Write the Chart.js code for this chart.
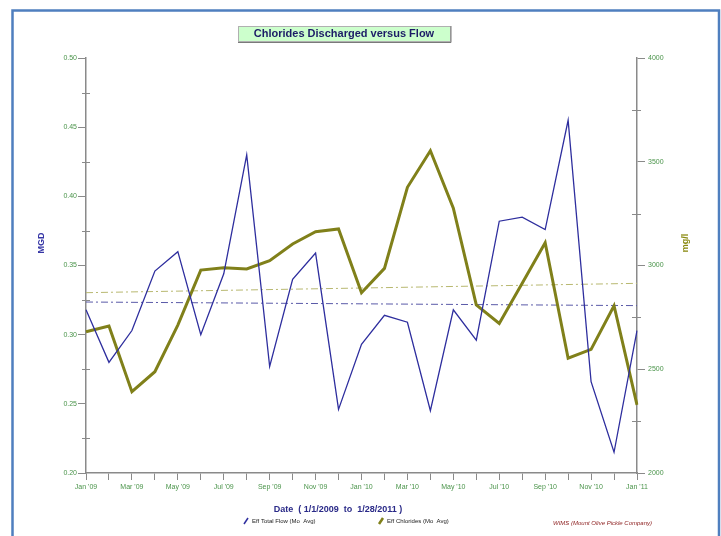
<!DOCTYPE html>
<html>
<head>
<meta charset="utf-8">
<script src="https://cdn.jsdelivr.net/npm/chart.js@4/dist/chart.umd.min.js"></script>
<style>
  html, body { margin: 0; padding: 0; background: #fff; }
  canvas { display: block; }
</style>
</head>
<body>
<canvas id="chart" width="721" height="536"></canvas>
<script>
// --- data ---
const months = [
  "Jan '09", "Feb '09", "Mar '09", "Apr '09", "May '09", "Jun '09", "Jul '09", "Aug '09",
  "Sep '09", "Oct '09", "Nov '09", "Dec '09", "Jan '10", "Feb '10", "Mar '10", "Apr '10",
  "May '10", "Jun '10", "Jul '10", "Aug '10", "Sep '10", "Oct '10", "Nov '10", "Dec '10", "Jan '11"
];
const flow = [
  0.318, 0.280, 0.303, 0.346, 0.360, 0.300, 0.344, 0.430,
  0.277, 0.340, 0.359, 0.246, 0.293, 0.314, 0.309, 0.245,
  0.318, 0.296, 0.382, 0.385, 0.376, 0.455, 0.266, 0.215, 0.303
];
const chlorides = [
  2681, 2708, 2392, 2488, 2713, 2978, 2989, 2983,
  3023, 3104, 3163, 3176, 2869, 2986, 3377, 3553,
  3276, 2810, 2721, 2915, 3110, 2553, 2596, 2806, 2328
];
// trend line end points (first month, last month)
const flowTrend = [0.3236, 0.3210];
const chlorTrend = [2869, 2914];

const mgdTicks = { min: 0.20, max: 0.50, step: 0.05 };
const mglTicks = { min: 2000, max: 4000, step: 500 };

const GREEN = "#4a944a";
const AXIS = "#8a8a8a";
const BLUE = "#2e2e9e";
const OLIVE = "#80801a";

const W = 721, H = 536;
const PLOT_L = 86, PLOT_R = 637, PLOT_B = 473, PLOT_T = 58;

// --- decorations: frame, title box, axis titles, minor ticks, legend ---
const decor = {
  id: "decor",
  beforeDraw(chart) {
    const c = chart.ctx;
    c.save();
    c.fillStyle = "#fff";
    c.fillRect(0, 0, W, H);
    c.restore();
  },
  afterDraw(chart) {
    const c = chart.ctx;
    const { y, y1 } = chart.scales;
    c.save();

    // outer frame
    c.strokeStyle = "#4f7fbf";
    c.lineWidth = 2.5;
    c.strokeRect(12.5, 10.5, 706.5, 540);

    // minor ticks (between major ones, crossing the axis)
    c.strokeStyle = AXIS;
    c.lineWidth = 1;
    c.beginPath();
    for (let i = 0; i < y.ticks.length - 1; i++) {
      const py = Math.round(y.getPixelForValue((y.ticks[i].value + y.ticks[i + 1].value) / 2)) + 0.5;
      c.moveTo(chart.chartArea.left - 4, py); c.lineTo(chart.chartArea.left + 4, py);
    }
    for (let i = 0; i < y1.ticks.length - 1; i++) {
      const py = Math.round(y1.getPixelForValue((y1.ticks[i].value + y1.ticks[i + 1].value) / 2)) + 0.5;
      c.moveTo(chart.chartArea.right - 5, py); c.lineTo(chart.chartArea.right + 4, py);
    }
    c.stroke();

    // title box
    c.fillStyle = "#ccffcc";
    c.fillRect(238, 26, 212, 15);
    c.strokeStyle = "#b0b0b0";
    c.lineWidth = 1;
    c.strokeRect(238.5, 26.5, 212, 15);
    c.strokeStyle = "#7a7a7a";
    c.beginPath();
    c.moveTo(451, 26); c.lineTo(451, 42.5); c.lineTo(238, 42.5);
    c.stroke();
    c.fillStyle = "#1c1c66";
    c.font = "bold 11px 'Liberation Sans', Arial, sans-serif";
    c.textAlign = "center";
    c.textBaseline = "middle";
    c.fillText("Chlorides Discharged versus Flow", 344, 34);

    // axis titles, both read bottom to top
    c.font = "bold 9px 'Liberation Sans', Arial, sans-serif";
    c.fillStyle = "#3535a5";
    c.translate(42, 243); c.rotate(-Math.PI / 2);
    c.fillText("MGD", 0, 0);
    c.setTransform(1, 0, 0, 1, 0, 0);
    c.fillStyle = "#8a8a10";
    c.translate(686, 243); c.rotate(-Math.PI / 2);
    c.fillText("mg/l", 0, 0);
    c.setTransform(1, 0, 0, 1, 0, 0);

    // x title
    c.fillStyle = "#2a2a88";
    c.font = "bold 9px 'Liberation Sans', Arial, sans-serif";
    c.fillText("Date  ( 1/1/2009  to  1/28/2011 )", 338, 510);

    // legend
    c.font = "6px 'Liberation Sans', Arial, sans-serif";
    c.textAlign = "left";
    const items = [
      { x: 244, label: "Eff Total Flow (Mo  Avg)", color: BLUE, w: 1.5 },
      { x: 379, label: "Eff Chlorides (Mo  Avg)", color: OLIVE, w: 2.5 }
    ];
    items.forEach(it => {
      c.strokeStyle = it.color;
      c.lineWidth = it.w;
      c.beginPath();
      c.moveTo(it.x, 524); c.lineTo(it.x + 4, 518);
      c.stroke();
      c.fillStyle = "#222";
      c.fillText(it.label, it.x + 8, 521);
    });

    // source note
    c.fillStyle = "#8b1c1c";
    c.font = "italic 6px 'Liberation Sans', Arial, sans-serif";
    c.fillText("WIMS (Mount Olive Pickle Company)", 553, 523);

    c.restore();
  }
};

const ctx = document.getElementById("chart").getContext("2d");

new Chart(ctx, {
  type: "line",
  data: {
    labels: months,
    datasets: [
      {
        label: "Eff Total Flow (Mo  Avg)",
        data: flow,
        yAxisID: "y",
        borderColor: BLUE,
        borderWidth: 1.3,
        pointRadius: 0,
        tension: 0,
        order: 1
      },
      {
        label: "Eff Chlorides (Mo  Avg)",
        data: chlorides,
        yAxisID: "y1",
        borderColor: OLIVE,
        borderWidth: 3,
        pointRadius: 0,
        tension: 0,
        order: 2
      },
      {
        label: "flow trend",
        data: [{ x: months[0], y: flowTrend[0] }, { x: months[months.length - 1], y: flowTrend[1] }],
        yAxisID: "y",
        borderColor: "#5a5aa8",
        borderWidth: 1,
        borderDash: [7, 3, 2, 3],
        pointRadius: 0,
        order: 3
      },
      {
        label: "chloride trend",
        data: [{ x: months[0], y: chlorTrend[0] }, { x: months[months.length - 1], y: chlorTrend[1] }],
        yAxisID: "y1",
        borderColor: "#b8b870",
        borderWidth: 1,
        borderDash: [7, 3, 2, 3],
        pointRadius: 0,
        order: 4
      }
    ]
  },
  options: {
    responsive: false,
    animation: false,
    layout: { padding: { top: PLOT_T, left: 0, right: 0, bottom: 0 } },
    plugins: { legend: { display: false }, title: { display: false }, tooltip: { enabled: false } },
    scales: {
      x: {
        offset: false,
        grid: { display: true, drawOnChartArea: false, drawTicks: true, tickLength: 7, color: AXIS, lineWidth: 1 },
        border: { display: true, color: AXIS, width: 1.5 },
        ticks: {
          autoSkip: false,
          maxRotation: 0,
          minRotation: 0,
          padding: 3,
          color: GREEN,
          font: { family: "'Liberation Sans', Arial, sans-serif", size: 7 },
          callback: (v, i) => (i % 2 === 0 ? months[i] : "")
        },
        afterFit: s => { s.height = H - PLOT_B; }
      },
      y: {
        position: "left",
        min: mgdTicks.min,
        max: mgdTicks.max,
        grid: { display: true, drawOnChartArea: false, drawTicks: true, tickLength: 8, color: AXIS, lineWidth: 1 },
        border: { display: true, color: AXIS, width: 1.5 },
        ticks: {
          stepSize: mgdTicks.step,
          padding: 1,
          color: GREEN,
          font: { family: "'Liberation Sans', Arial, sans-serif", size: 7 },
          callback: v => v.toFixed(2)
        },
        afterFit: s => { s.width = PLOT_L; }
      },
      y1: {
        position: "right",
        min: mglTicks.min,
        max: mglTicks.max,
        grid: { display: true, drawOnChartArea: false, drawTicks: true, tickLength: 8, color: AXIS, lineWidth: 1 },
        border: { display: true, color: AXIS, width: 1.5 },
        ticks: {
          stepSize: mglTicks.step,
          padding: 3,
          color: GREEN,
          font: { family: "'Liberation Sans', Arial, sans-serif", size: 7 },
          callback: v => String(v)
        },
        afterFit: s => { s.width = W - PLOT_R; }
      }
    }
  },
  plugins: [decor]
});
</script>
</body>
</html>
